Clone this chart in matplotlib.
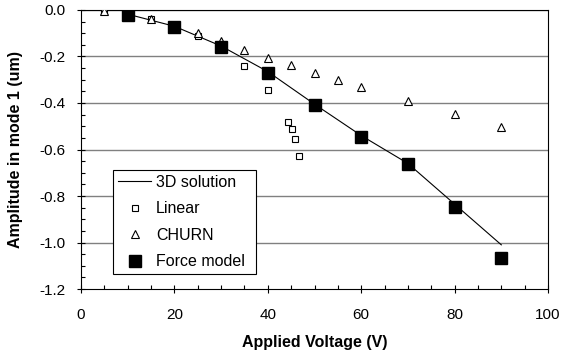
import numpy as np
import matplotlib.pyplot as plt
from matplotlib.ticker import MultipleLocator

plt.rcParams['font.family'] = ['Liberation Sans', 'DejaVu Sans']

# 3D solution (line)
v_3d = [10, 20, 30, 40, 50, 60, 70, 80, 90]
a_3d = [-0.018, -0.07, -0.155, -0.265, -0.405, -0.54, -0.66, -0.835, -1.01]

# Linear model
v_lin = [5, 15, 25, 35, 40, 44.3, 45.1, 45.8, 46.7]
a_lin = [-0.005, -0.04, -0.112, -0.24, -0.344, -0.48, -0.51, -0.553, -0.627]

# CHURN
v_churn = [5, 15, 25, 30, 35, 40, 45, 50, 55, 60, 70, 80, 90]
a_churn = [-0.003, -0.037, -0.097, -0.133, -0.17, -0.205, -0.235, -0.27, -0.30, -0.333, -0.39, -0.447, -0.505]

# Force model
v_force = [10, 20, 30, 40, 50, 60, 70, 80, 90]
a_force = [-0.021, -0.073, -0.16, -0.27, -0.409, -0.546, -0.662, -0.846, -1.065]

fig = plt.figure(figsize=(5.72, 3.58), dpi=100)
ax = fig.add_axes([81/572, 1 - 289/358, 467/572, 279/358])

for yv in np.arange(-1.0, 0.01, 0.2):
    ax.axhline(yv, color='#808080', lw=1.0, zorder=0)

ax.plot(v_3d, a_3d, color='black', lw=0.8, label='3D solution', zorder=3)
ax.plot(v_lin, a_lin, ls='none', marker='s', ms=5, mfc='white', mec='black',
        mew=0.8, label='Linear', zorder=4)
ax.plot(v_churn, a_churn, ls='none', marker='^', ms=6, mfc='white', mec='black',
        mew=0.8, label='CHURN', zorder=4)
ax.plot(v_force, a_force, ls='none', marker='s', ms=8.5, mfc='black', mec='black',
        label='Force model', zorder=5)

ax.set_xlim(0, 100)
ax.set_ylim(-1.2, 0.0)
ax.xaxis.set_major_locator(MultipleLocator(20))
ax.xaxis.set_minor_locator(MultipleLocator(5))
ax.yaxis.set_major_locator(MultipleLocator(0.2))
ax.yaxis.set_minor_locator(MultipleLocator(0.05))
ax.yaxis.set_major_formatter(plt.FuncFormatter(lambda v, p: f'{v:.1f}'))
ax.tick_params(which='major', direction='inout', length=6, width=0.8, labelsize=11,
               top=False, right=False)
ax.tick_params(which='minor', direction='in', length=3, width=0.8, top=False, right=False)
ax.tick_params(axis='x', pad=11)
ax.tick_params(axis='y', pad=8)
for s in ax.spines.values():
    s.set_linewidth(0.8)

ax.set_xlabel('Applied Voltage (V)', fontsize=11.5, fontweight='bold', labelpad=9)
ax.set_ylabel('Amplitude in mode 1 (um)', fontsize=11.5, fontweight='bold', labelpad=12)

leg = ax.legend(loc='upper left', bbox_to_anchor=(0.0685, 0.0, 0.306, 0.427),
                mode='expand', fontsize=11.5, frameon=True, fancybox=False,
                edgecolor='black', framealpha=1, borderaxespad=0,
                handlelength=2.1, handletextpad=0.3, labelspacing=0.72,
                borderpad=0.3)
leg.get_frame().set_linewidth(0.8)

fig.savefig('out.png', dpi=100)
